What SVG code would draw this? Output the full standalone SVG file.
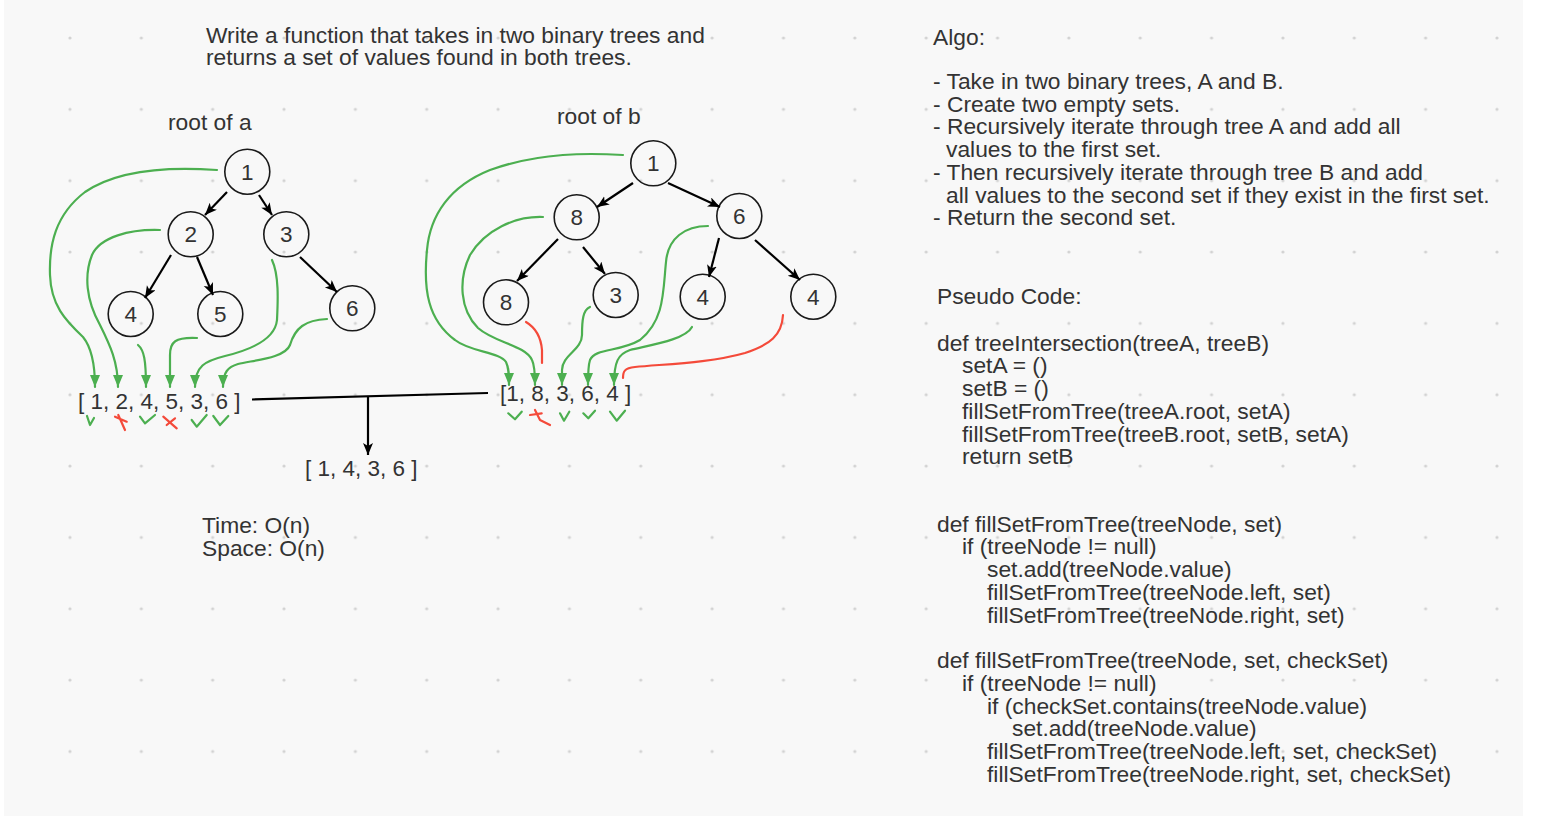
<svg xmlns="http://www.w3.org/2000/svg" width="1542" height="816" viewBox="0 0 1542 816">
<style>
text{font-family:"Liberation Sans",Arial,Helvetica,sans-serif;font-size:22.8px;fill:#333333}
.arr{font-size:22.5px}
.lbl{text-anchor:middle;font-size:22.5px}
.node circle{fill:none;stroke:#1a1a1a;stroke-width:1.6}
.edge{fill:none;stroke:#000;stroke-width:2.2}
.g{fill:none;stroke:#4caf50;stroke-width:2.2;stroke-linecap:round;stroke-linejoin:round}
.r{fill:none;stroke:#f44a3a;stroke-width:2.2;stroke-linecap:round;stroke-linejoin:round}
</style>
<defs>
<pattern id="dots" patternUnits="userSpaceOnUse" x="34.3" y="2.3" width="71.35" height="71.35">
<circle cx="35.675" cy="35.675" r="1.6" fill="#d2d2d2"/>
</pattern>
<marker id="ak" markerUnits="userSpaceOnUse" markerWidth="14" markerHeight="12" refX="12" refY="5" orient="auto" viewBox="0 0 14 12">
<path d="M0,0 L12,5 L0,10 L3,5 z" fill="#000"/>
</marker>
<marker id="ag" markerUnits="userSpaceOnUse" markerWidth="14" markerHeight="12" refX="12" refY="5" orient="auto" viewBox="0 0 14 12">
<path d="M0,0 L12,5 L0,10 z" fill="#4caf50"/>
</marker>
</defs>
<rect x="0" y="0" width="1542" height="816" fill="#ffffff"/>
<rect x="4" y="0" width="1519" height="816" fill="#f8f8f8"/>
<rect x="4" y="0" width="1519" height="816" fill="url(#dots)"/>

<g id="texts">
<text x="206" y="42.7">Write a function that takes in two binary trees and</text>
<text x="206" y="65.4">returns a set of values found in both trees.</text>
<text x="168" y="130">root of a</text>
<text x="557" y="124.3">root of b</text>
<text x="202" y="533">Time: O(n)</text>
<text x="202" y="556">Space: O(n)</text>
<text class="arr" x="305" y="475.5">[ 1, 4, 3, 6 ]</text>
</g>

<g id="algo">
<text x="933" y="45">Algo:</text>
<text x="933" y="89">- Take in two binary trees, A and B.</text>
<text x="933" y="111.7">- Create two empty sets.</text>
<text x="933" y="134.4">- Recursively iterate through tree A and add all</text>
<text x="946" y="157.1">values to the first set.</text>
<text x="933" y="179.8">- Then recursively iterate through tree B and add</text>
<text x="946" y="202.5">all values to the second set if they exist in the first set.</text>
<text x="933" y="225.2">- Return the second set.</text>
</g>

<g id="pseudocode">
<text x="937" y="304">Pseudo Code:</text>
<text x="937" y="350.7">def treeIntersection(treeA, treeB)</text>
<text x="962" y="373.4">setA = ()</text>
<text x="962" y="396.1">setB = ()</text>
<text x="962" y="418.8">fillSetFromTree(treeA.root, setA)</text>
<text x="962" y="441.5">fillSetFromTree(treeB.root, setB, setA)</text>
<text x="962" y="464.2">return setB</text>
<text x="937" y="531.7">def fillSetFromTree(treeNode, set)</text>
<text x="962" y="554.4">if (treeNode != null)</text>
<text x="987" y="577.1">set.add(treeNode.value)</text>
<text x="987" y="599.8">fillSetFromTree(treeNode.left, set)</text>
<text x="987" y="622.5">fillSetFromTree(treeNode.right, set)</text>
<text x="937" y="668.3">def fillSetFromTree(treeNode, set, checkSet)</text>
<text x="962" y="691">if (treeNode != null)</text>
<text x="987" y="713.7">if (checkSet.contains(treeNode.value)</text>
<text x="1012" y="736.4">set.add(treeNode.value)</text>
<text x="987" y="759.1">fillSetFromTree(treeNode.left, set, checkSet)</text>
<text x="987" y="781.8">fillSetFromTree(treeNode.right, set, checkSet)</text>
</g>

<g id="arrays">
<text id="arrayA" class="arr" x="78" y="409">[ 1, 2, 4, 5, 3, 6 ]</text>
<text id="arrayB" class="arr" x="500" y="401">[1, 8, 3, 6, 4 ]</text>
</g>

<g id="nodesA">
<g id="a1" class="node"><circle cx="247.3" cy="171.7" r="22.5"/><text class="lbl" x="247.3" y="179.7">1</text></g>
<g id="a2" class="node"><circle cx="190.7" cy="234.3" r="22.5"/><text class="lbl" x="190.7" y="242.3">2</text></g>
<g id="a3" class="node"><circle cx="286.3" cy="234.3" r="22.5"/><text class="lbl" x="286.3" y="242.3">3</text></g>
<g id="a4" class="node"><circle cx="130.7" cy="314" r="22.5"/><text class="lbl" x="130.7" y="322">4</text></g>
<g id="a5" class="node"><circle cx="220.3" cy="314" r="22.5"/><text class="lbl" x="220.3" y="322">5</text></g>
<g id="a6" class="node"><circle cx="352.3" cy="308.3" r="22.5"/><text class="lbl" x="352.3" y="316.3">6</text></g>
</g>

<g id="nodesB">
<g id="b1" class="node"><circle cx="653.3" cy="163.3" r="22.5"/><text class="lbl" x="653.3" y="171.3">1</text></g>
<g id="b8" class="node"><circle cx="576.7" cy="217.3" r="22.5"/><text class="lbl" x="576.7" y="225.3">8</text></g>
<g id="b6" class="node"><circle cx="739.3" cy="216" r="22.5"/><text class="lbl" x="739.3" y="224">6</text></g>
<g id="b8l" class="node"><circle cx="506" cy="302.3" r="22.5"/><text class="lbl" x="506" y="310.3">8</text></g>
<g id="b3" class="node"><circle cx="615.7" cy="295" r="22.5"/><text class="lbl" x="615.7" y="303">3</text></g>
<g id="b4l" class="node"><circle cx="702.7" cy="296.7" r="22.5"/><text class="lbl" x="702.7" y="304.7">4</text></g>
<g id="b4r" class="node"><circle cx="813.3" cy="296.7" r="22.5"/><text class="lbl" x="813.3" y="304.7">4</text></g>
</g>

<g id="connectors">
<path class="edge" marker-end="url(#ak)" d="M227,192 L205,215"/>
<path class="edge" marker-end="url(#ak)" d="M259,195 L272,215"/>
<path class="edge" marker-end="url(#ak)" d="M171,255 L145,298"/>
<path class="edge" marker-end="url(#ak)" d="M197,257 L213,295"/>
<path class="edge" marker-end="url(#ak)" d="M300,257 L337,292"/>
<path class="edge" marker-end="url(#ak)" d="M633,183 L597,207"/>
<path class="edge" marker-end="url(#ak)" d="M668,183 L720,207"/>
<path class="edge" marker-end="url(#ak)" d="M558,239 L517,281"/>
<path class="edge" marker-end="url(#ak)" d="M583,247 L605,274"/>
<path class="edge" marker-end="url(#ak)" d="M719,238 L709,277"/>
<path class="edge" marker-end="url(#ak)" d="M755,240 L800,280"/>
<path class="edge" d="M252,399.5 L488,393"/>
<path class="edge" marker-end="url(#ak)" d="M368,396.5 L368,455"/>
<path class="g" marker-end="url(#ag)" d="M217,170 C175,167 120,168 85,192 C55,215 49,245 50,275 C51,305 65,320 83,337 C92,348 95,365 95,387"/>
<path class="g" marker-end="url(#ag)" d="M160,230 C130,229 100,237 92,255 C84,275 86,300 100,325 C110,345 118,362 118,387"/>
<path class="g" marker-end="url(#ag)" d="M138,345 C144,350 146,360 146,387"/>
<path class="g" marker-end="url(#ag)" d="M197,338 C175,337 170,342 170,355 L170,387"/>
<path class="g" marker-end="url(#ag)" d="M272,260 C279,275 278,300 277,320 C275,340 250,350 225,356 C205,361 195,366 195,387"/>
<path class="g" marker-end="url(#ag)" d="M327,319 C305,320 295,328 290,345 C285,358 255,360 238,364 C228,367 223,372 223,387"/>
<path class="g" marker-end="url(#ag)" d="M623,155 C590,153 540,152 490,170 C450,186 430,215 427,250 C423,290 428,320 455,340 C470,352 500,352 506,362 C509,368 509,375 509,385"/>
<path class="g" marker-end="url(#ag)" d="M543,217 C515,216 485,230 470,255 C458,280 460,310 478,328 C495,343 525,345 532,360 C535,366 535,375 535,385"/>
<path class="g" marker-end="url(#ag)" d="M590,307 C583,310 582,320 582,335 C582,350 562,355 562,370 L562,385"/>
<path class="g" marker-end="url(#ag)" d="M708,226 C685,226 668,238 666,262 C663,290 665,320 640,340 C620,352 595,348 590,360 C588,366 588,375 588,385"/>
<path class="g" marker-end="url(#ag)" d="M692,327 C685,340 650,345 630,350 C618,354 614,362 614,385"/>
<path class="r" d="M526,322 C536,328 541,338 542,350 L542,363"/>
<path class="r" d="M783,315 C782,335 770,345 745,353 C710,363 665,364 635,367 C624,368 623,372 623,378"/>
</g>

<g id="marks">
<path class="g" d="M87,416 L90,425 L94,418"/>
<path class="r" d="M115,416.7 L126.7,421.7 M118.3,415 L125,430"/>
<path class="g" d="M140,416.7 L145,423.3 L155,415"/>
<path class="r" d="M163.3,416.7 L176.7,428.3 M166.7,425 L175,418.3"/>
<path class="g" d="M191.7,420 L196.7,426.7 L206.7,415"/>
<path class="g" d="M213.3,416 L220,425 L228.3,416"/>
<path class="g" d="M508.3,413.3 L515,419.3 L521.7,411.7"/>
<path class="r" d="M530,415 L541.7,413.3 M535,410 L540,420 L550,425"/>
<path class="g" d="M560,413.3 L564,420.7 L569.3,411.7"/>
<path class="g" d="M583.3,413.3 L588.3,418.3 L595,410.7"/>
<path class="g" d="M610,411.7 L616.7,420.7 L625,410.7"/>
</g>
</svg>
